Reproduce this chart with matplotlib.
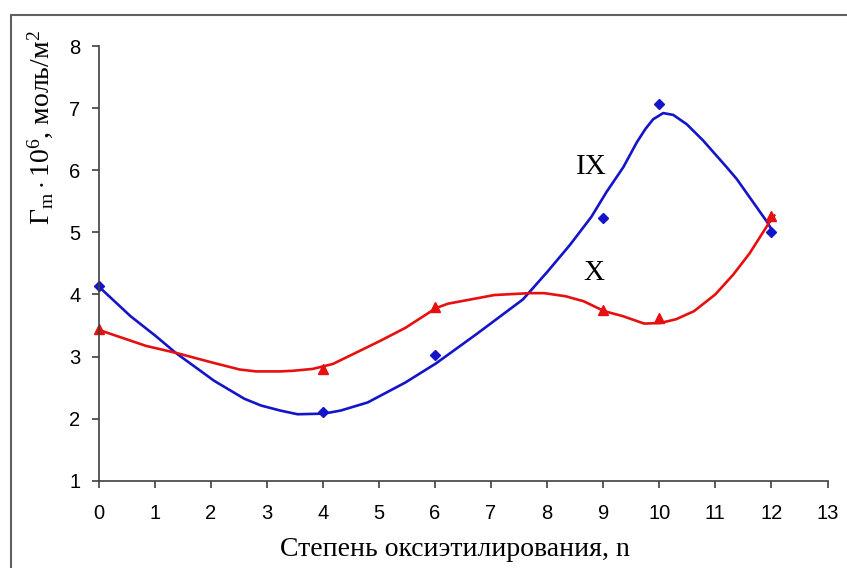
import matplotlib
matplotlib.use("Agg")
import matplotlib.pyplot as plt
from matplotlib.patches import Rectangle

plt.rcParams["mathtext.fontset"] = "custom"
plt.rcParams["mathtext.rm"] = "Liberation Serif"
plt.rcParams["mathtext.it"] = "Liberation Serif"

# measured points
n = [0, 4, 6, 9, 10, 12]
ix_points = [4.14, 2.10, 3.02, 5.23, 7.06, 5.00]
x_points = [3.45, 2.80, 3.80, 3.75, 3.62, 5.27]

# hand-drawn curves
ix_curve_n = [0, 0.57, 1.02, 1.375, 2.06, 2.6, 2.9, 3.24, 3.55, 4.02, 4.32, 4.8,
              5.47, 6.02, 6.74, 7.57, 8.01, 8.41, 8.79, 9.06, 9.36, 9.60, 9.75,
              9.89, 10.07, 10.25, 10.49, 10.78, 11.2, 11.38, 11.92, 12.0]
ix_curve = [4.13, 3.65, 3.33, 3.06, 2.61, 2.32, 2.21, 2.13, 2.07, 2.08, 2.13, 2.26,
            2.58, 2.89, 3.36, 3.92, 4.37, 4.80, 5.25, 5.65, 6.05, 6.45, 6.66,
            6.82, 6.92, 6.89, 6.74, 6.48, 6.05, 5.86, 5.17, 5.05]
x_curve_n = [0, 0.85, 1.375, 2.04, 2.52, 2.81, 3.24, 3.47, 3.82, 4.18, 5.02, 5.47,
             6.02, 6.23, 7.06, 7.69, 7.95, 8.33, 8.65, 9.02, 9.35, 9.73, 10.02,
             10.3, 10.62, 11.0, 11.32, 11.61, 11.97, 12.05]
x_curve = [3.43, 3.17, 3.06, 2.90, 2.79, 2.76, 2.76, 2.77, 2.80, 2.88, 3.25, 3.46,
           3.78, 3.85, 3.99, 4.02, 4.02, 3.97, 3.89, 3.73, 3.65, 3.53, 3.54,
           3.60, 3.73, 4.00, 4.32, 4.66, 5.17, 5.27]

x_ticks = list(range(0, 14))
y_ticks = list(range(1, 9))

W, H = 847, 568
fig = plt.figure(figsize=(W / 100, H / 100), dpi=100)
ax = fig.add_axes([98.5 / W, 1 - 480.7 / H, (827.5 - 98.5) / W, (480.7 - 46) / H])

blue = "#1414c8"
red = "#e61010"
ax.plot(ix_curve_n, ix_curve, color=blue, lw=1.9, solid_joinstyle="round")
ax.plot(x_curve_n, x_curve, color=red, lw=1.9, solid_joinstyle="round")
ax.plot(n, ix_points, "D", color=blue, ms=5, mec=blue, clip_on=False)
ax.plot(n, x_points, "^", color=red, ms=7.5, mec=red, clip_on=False)

ax.text(8.78, 6.05, "IX", fontsize=21, family="Liberation Serif", ha="center", va="center")
ax.text(8.83, 4.35, "X", fontsize=21, family="Liberation Serif", ha="center", va="center")

ax.set_xlim(0, 13)
ax.set_ylim(1, 8)
ax.set_xticks(x_ticks)
ax.set_yticks(y_ticks)
for s in ["top", "right"]:
    ax.spines[s].set_visible(False)
for s in ["left", "bottom"]:
    ax.spines[s].set_color("#404040")
    ax.spines[s].set_linewidth(1.2)
ax.tick_params(axis="both", direction="out", length=5, width=1.2, color="#404040",
               labelsize=14.5)
ax.tick_params(axis="x", pad=12)
ax.tick_params(axis="y", pad=8)
for lab in ax.get_xticklabels() + ax.get_yticklabels():
    lab.set_family("Liberation Sans")

fig.text(455 / W, 1 - 550 / H, "Степень оксиэтилирования, n", fontsize=20,
         family="Liberation Serif", ha="center", va="center")
fig.text(40 / W, 1 - 128 / H, r"$\Gamma_{\mathrm{m}}\cdot 10^{6}$, моль/м$^{2}$",
         fontsize=20, family="Liberation Serif", rotation=90, ha="center", va="center")

fig.add_artist(Rectangle((10.5 / W, -0.2), 1.5, 1.2 - 14.5 / H, transform=fig.transFigure,
                         fill=False, edgecolor="#606060", lw=1.5))

fig.savefig("out.png", dpi=100)
